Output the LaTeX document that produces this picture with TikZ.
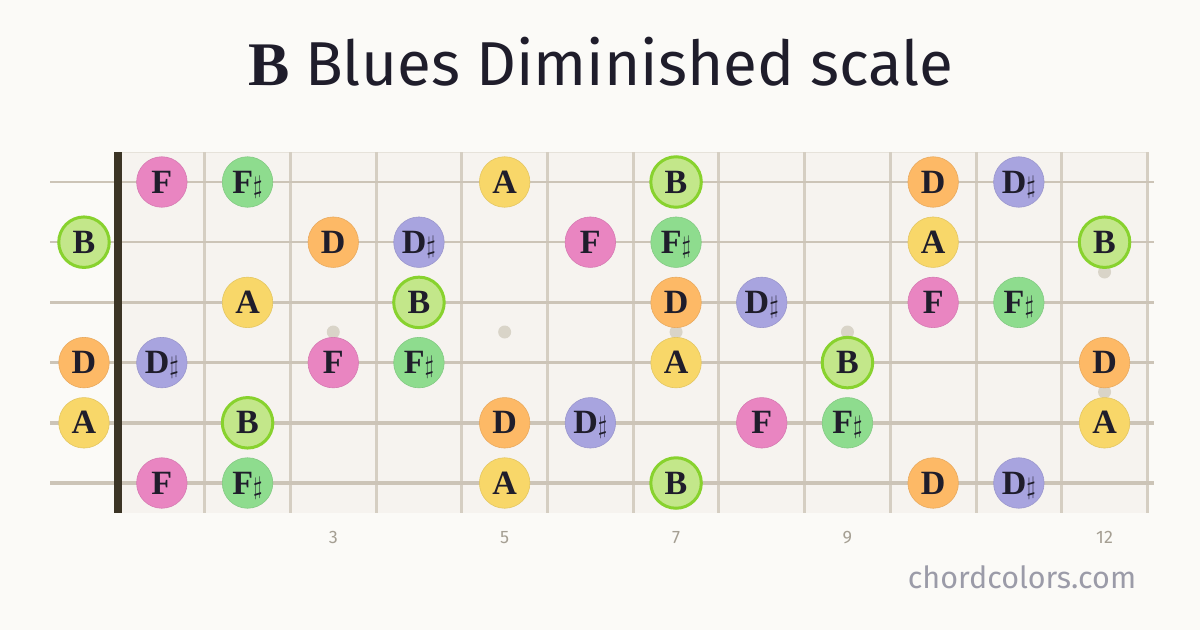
\documentclass[tikz,border=0pt]{standalone}
\usepackage{fontspec}
\newfontfamily\headfont{Fira Sans}
\newfontfamily\notefont{Liberation Serif}
\newcommand{\shp}{\ensuremath{\sharp}}
\definecolor{paper}{HTML}{FBFAF7}
\definecolor{wood}{HTML}{F6F3EF}
\definecolor{fretcol}{HTML}{D5CEC2}
\definecolor{stringcol}{HTML}{CCC4B7}
\definecolor{nutcol}{HTML}{3B3425}
\definecolor{dotcol}{HTML}{D9D4C8}
\definecolor{ink}{HTML}{1F1D2B}
\definecolor{colF}{HTML}{E985C1}
\definecolor{colFs}{HTML}{8EDC8E}
\definecolor{colA}{HTML}{F8D769}
\definecolor{colB}{HTML}{C3E78A}
\definecolor{colBring}{HTML}{88D22E}
\definecolor{colD}{HTML}{FDB966}
\definecolor{colDs}{HTML}{A8A4DF}
\definecolor{numcol}{HTML}{A59F93}
\definecolor{sitecol}{HTML}{9B9BA8}

\begin{document}
\begin{tikzpicture}[x=1pt,y=-1pt,
  note/.style={circle,minimum size=50.5pt,inner sep=0pt,text height=22pt,text depth=0pt,
    line width=0.6pt,font=\notefont\bfseries\fontsize{34}{34}\selectfont,text=ink},
  pF/.style={note,fill=colF,draw=colF!92!black},
  pFs/.style={note,fill=colFs,draw=colFs!92!black},
  pA/.style={note,fill=colA,draw=colA!92!black},
  pD/.style={note,fill=colD,draw=colD!92!black},
  pDs/.style={note,fill=colDs,draw=colDs!92!black},
  pB/.style={note,fill=colB,draw=colBring,line width=3pt},
  fretnum/.style={anchor=base,text=numcol,font=\headfont\fontsize{18}{18}\selectfont}]
\useasboundingbox[fill=paper] (0,0) rectangle (1200,630);
\node[anchor=base,text=ink,font=\fontsize{62}{62}\selectfont] (title) at (601,85)
  {\notefont\bfseries B \headfont\mdseries Blues Diminished scale};
% board
\fill[wood] (118,152) rectangle (1149,513);
\draw[fretcol!60,line width=1pt] (118,152.5) -- (1149,152.5);
\foreach \f in {1,...,12}
  \draw[fretcol,line width=3pt] ({119+85.7*\f},152) -- ({119+85.7*\f},513);
\foreach \f in {3,5,7,9}
  \fill[dotcol] ({119+85.7*(\f-0.5)},332) circle (6.5);
\fill[dotcol] ({119+85.7*11.5},272) circle (6.5) ({119+85.7*11.5},392) circle (6.5);
\foreach \s/\w in {1/2,2/2.4,3/2.8,4/3.2,5/3.6,6/4}
  \draw[stringcol,line width=\w pt] (50,{182+60.2*(\s-1)}) -- (1154,{182+60.2*(\s-1)});
\fill[nutcol] (114,152) rectangle (122,513);
% notes: string/fret/label/style
\foreach \s/\f/\n/\k in {
    1/1/F/pF,1/2/F\shp/pFs,1/5/A/pA,1/7/B/pB,1/10/D/pD,1/11/D\shp/pDs,
    2/0/B/pB,2/3/D/pD,2/4/D\shp/pDs,2/6/F/pF,2/7/F\shp/pFs,2/10/A/pA,2/12/B/pB,
    3/2/A/pA,3/4/B/pB,3/7/D/pD,3/8/D\shp/pDs,3/10/F/pF,3/11/F\shp/pFs,
    4/0/D/pD,4/1/D\shp/pDs,4/3/F/pF,4/4/F\shp/pFs,4/7/A/pA,4/9/B/pB,4/12/D/pD,
    5/0/A/pA,5/2/B/pB,5/5/D/pD,5/6/D\shp/pDs,5/8/F/pF,5/9/F\shp/pFs,5/12/A/pA,
    6/1/F/pF,6/2/F\shp/pFs,6/5/A/pA,6/7/B/pB,6/10/D/pD,6/11/D\shp/pDs}
  \node[\k] (n\s-\f) at ({\f==0 ? 84 : 119+85.7*(\f-0.5)},{182+60.2*(\s-1)}) {\n};
\foreach \f in {3,5,7,9,12}
  \node[fretnum] (fn\f) at ({119+85.7*(\f-0.5)},543) {\f};
\node[anchor=base,text=sitecol,font=\headfont\fontsize{30.5}{30.5}\selectfont] (site) at (1022,588) {chordcolors.com};
\end{tikzpicture}
\end{document}
